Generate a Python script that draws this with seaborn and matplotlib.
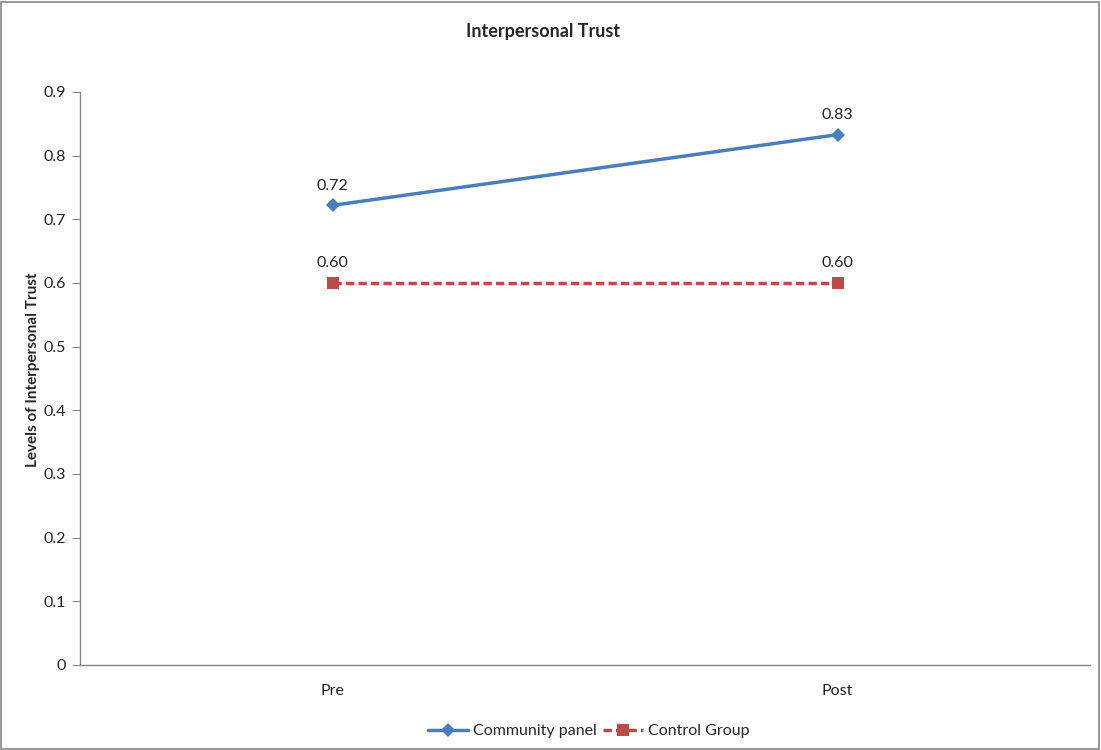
import numpy as np
import pandas as pd
import matplotlib
matplotlib.use('Agg')
import matplotlib.pyplot as plt
from matplotlib.patches import Rectangle
import seaborn as sns

# data
aPeriod = ['Pre', 'Post']
aCommunity = [0.722, 0.833]
aControl = [0.60, 0.60]

sns.set_style('white')
plt.rcParams['font.family'] = ['Lato', 'DejaVu Sans']

fig = plt.figure(figsize=(11.01, 7.5), dpi=100)
ax = fig.add_axes([80 / 1101, 85 / 750, 1010 / 1101, 573 / 750])

df = pd.DataFrame({'x': [0, 1], 'Community panel': aCommunity, 'Control Group': aControl})

sns.lineplot(data=df, x='x', y='Community panel', ax=ax, color='#4a7ebb', lw=2.5,
             marker='D', markersize=7, markeredgewidth=0, label='Community panel')
sns.lineplot(data=df, x='x', y='Control Group', ax=ax, color='#be4b48', lw=2.5,
             linestyle=(0, (2.4, 1.2)), marker='s', markersize=9, markeredgewidth=0,
             label='Control Group')

for i in range(len(aPeriod)):
    ax.annotate('%.2f' % aCommunity[i], (i, aCommunity[i]), xytext=(0, 9),
                textcoords='offset points', ha='center', va='bottom', fontsize=11.5, color='#222222')
    ax.annotate('%.2f' % aControl[i], (i, aControl[i]), xytext=(0, 9),
                textcoords='offset points', ha='center', va='bottom', fontsize=11.5, color='#222222')

ax.set_xlim(-0.5, 1.5)
ax.set_ylim(0, 0.9)
ax.set_yticks(np.arange(0, 0.91, 0.1))
ax.set_yticklabels(['0'] + ['%.1f' % v for v in np.arange(0.1, 0.91, 0.1)], fontsize=11.5, color='#222222')
ax.set_xticks([-0.5, 0.5, 1.5])
ax.set_xticklabels([])
ax.set_xticks([0, 1], minor=True)
ax.set_xticklabels(aPeriod, minor=True, fontsize=11.5, color='#222222')
ax.tick_params(axis='x', which='minor', length=0, pad=14)
ax.tick_params(axis='x', which='major', length=5, color='#868686', direction='out')
ax.tick_params(axis='y', length=6, color='#868686', direction='out', pad=4, left=True)
ax.set_xlabel('')
ax.set_ylabel('Levels of Interpersonal Trust', fontsize=11, fontweight='bold')
ax.yaxis.set_label_coords(-40 / 1010, 0.516)
for s in ['top', 'right']:
    ax.spines[s].set_visible(False)
for s in ['left', 'bottom']:
    ax.spines[s].set_color('#868686')
    ax.spines[s].set_linewidth(1)

fig.text(543 / 1101, 1 - 31 / 750, 'Interpersonal Trust', ha='center', va='center',
         fontsize=13, fontweight='bold')

leg = ax.legend(loc='center', bbox_to_anchor=(589 / 1101, 1 - 731 / 750),
                bbox_transform=fig.transFigure, ncol=2, frameon=False, fontsize=11.5,
                handlelength=2.5, columnspacing=0.4, handletextpad=0.3)

fig.patches.append(Rectangle((0.001, 0.001), 0.997, 0.997, transform=fig.transFigure,
                             fill=False, edgecolor='#868686', lw=1.2))

plt.savefig('out.png', dpi=100)
